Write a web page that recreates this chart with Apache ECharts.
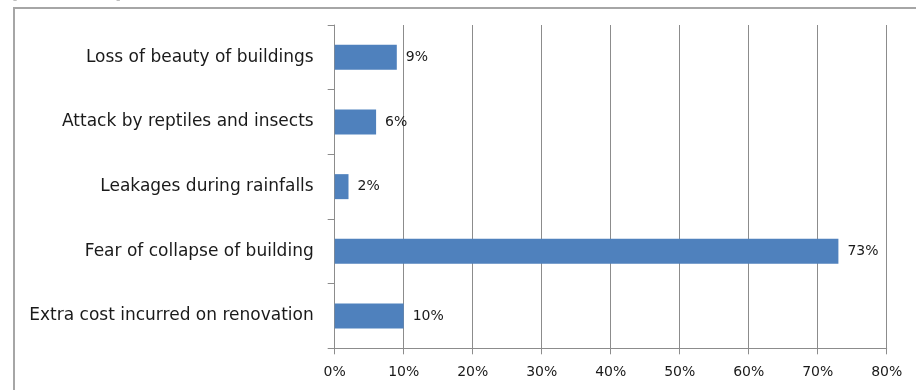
<!DOCTYPE html>
<html>
<head>
<meta charset="utf-8">
<script src="https://cdn.jsdelivr.net/npm/echarts@6/dist/echarts.min.js"></script>
<style>
  html, body { margin: 0; padding: 0; background: #fff; }
  #chart { width: 916px; height: 390px; }
</style>
</head>
<body>
<div id="chart"></div>
<script>
// Reported problems with buildings, share of respondents (%)
const categories = [
  'Loss of beauty of buildings',
  'Attack by reptiles and insects',
  'Leakages during rainfalls',
  'Fear of collapse of building',
  'Extra cost incurred on renovation'
];
const shares = [9, 6, 2, 73, 10];
const axisMax = 80;
const axisStep = 10;

const FONT = '"DejaVu Sans", sans-serif';
const GRID_COLOR = '#8c8c8c';

const chart = echarts.init(document.getElementById('chart'));
chart.setOption({
  animation: false,
  backgroundColor: '#ffffff',
  graphic: [
    {
      type: 'rect',
      shape: { x: 14, y: 8, width: 1000, height: 1000 },
      style: { fill: 'none', stroke: '#a6a6a6', lineWidth: 2 },
      silent: true
    },
    {
      type: 'text', x: 12, y: 2,
      style: { text: '[', font: '16px ' + FONT, fill: '#000', verticalAlign: 'bottom' }
    },
    {
      type: 'text', x: 115, y: 2,
      style: { text: ']', font: '16px ' + FONT, fill: '#000', verticalAlign: 'bottom' }
    }
  ],
  grid: { left: 334.7, right: 29.3, top: 25, bottom: 41.7, containLabel: false },
  xAxis: {
    type: 'value',
    min: 0,
    max: axisMax,
    interval: axisStep,
    axisLine: { show: true, lineStyle: { color: GRID_COLOR, width: 1 } },
    axisTick: { show: true, length: 6, lineStyle: { color: GRID_COLOR } },
    splitLine: { show: true, lineStyle: { color: GRID_COLOR, width: 1 } },
    axisLabel: {
      formatter: '{value}%',
      margin: 17,
      color: '#1a1a1a',
      fontFamily: FONT,
      fontSize: 14
    }
  },
  yAxis: {
    type: 'category',
    data: categories,
    inverse: true,
    axisLine: { show: true, lineStyle: { color: GRID_COLOR, width: 1 } },
    axisTick: { show: true, length: 7, alignWithLabel: false, lineStyle: { color: GRID_COLOR } },
    splitLine: { show: false },
    axisLabel: {
      margin: 21,
      color: '#1a1a1a',
      fontFamily: FONT,
      fontSize: 17
    }
  },
  series: [{
    type: 'bar',
    data: shares,
    barWidth: 25,
    itemStyle: { color: '#4f81bd' },
    label: {
      show: true,
      position: 'right',
      distance: 9,
      formatter: '{c}%',
      color: '#1a1a1a',
      fontFamily: FONT,
      fontSize: 14
    }
  }]
});
</script>
</body>
</html>
